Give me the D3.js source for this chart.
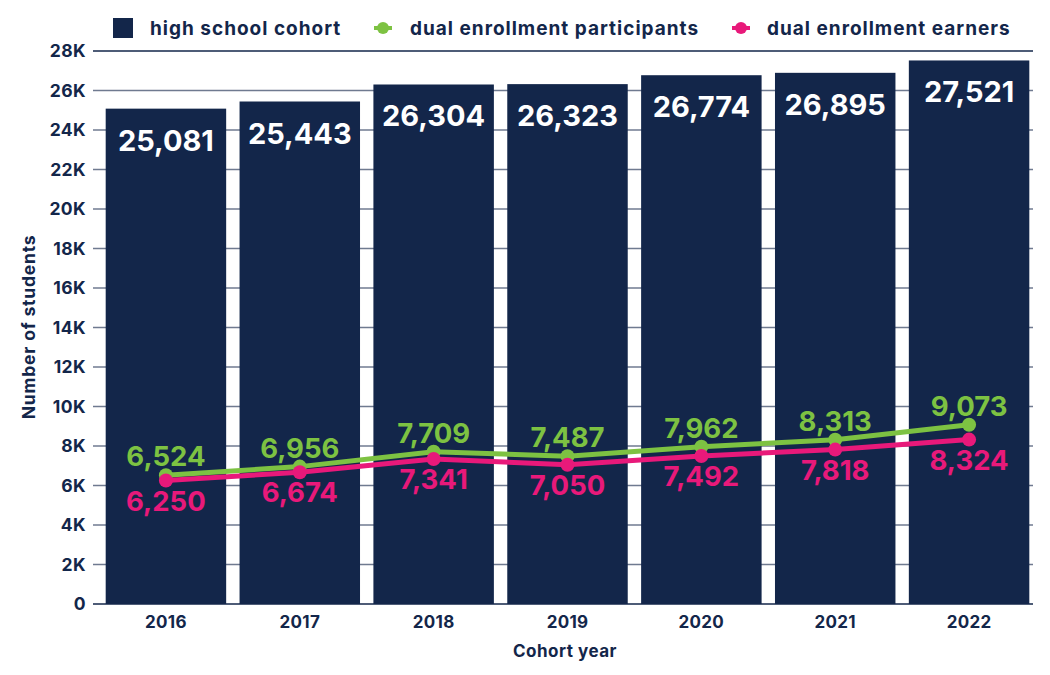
<!DOCTYPE html>
<html><head><meta charset="utf-8">
<script src="https://cdn.jsdelivr.net/npm/d3@7"></script>
<style>
html,body{margin:0;padding:0;background:#fff;}
text{font-family:Inter, "Noto Sans", sans-serif;font-weight:700;}
</style></head>
<body><svg id="c" width="1050" height="675"></svg>
<script>
const years = ["2016","2017","2018","2019","2020","2021","2022"];
const cohort = [25081,25443,26304,26323,26774,26895,27521];
const participants = [6524,6956,7709,7487,7962,8313,9073];
const earners = [6250,6674,7341,7050,7492,7818,8324];
const yTicks = [0,2000,4000,6000,8000,10000,12000,14000,16000,18000,20000,22000,24000,26000,28000];
const legendLabels = ["high school cohort","dual enrollment participants","dual enrollment earners"];

const navy = "#13264a", green = "#7dc242", pink = "#e8197a";
const svg = d3.select("#c");
const x = d3.scaleBand().domain(years).range([99,1036]).paddingInner(0.1).paddingOuter(0.05);
const y = d3.scaleLinear().domain([0,28000]).range([604,51]);
const fmt = d3.format(",");

// gridlines
svg.append("g").selectAll("line").data(yTicks).join("line")
  .attr("x1",93).attr("x2",1033).attr("y1",d=>y(d)).attr("y2",d=>y(d))
  .attr("stroke",d=>d===0||d===28000?navy:"#6f7a90").attr("stroke-width",1.5);

// y axis labels
const ya = svg.append("g").attr("transform","translate(93,0)")
  .call(d3.axisLeft(y).tickValues(yTicks).tickSize(0).tickPadding(7).tickFormat(d=>d===0?"0":(d/1000)+"K"));
ya.select(".domain").remove();
ya.selectAll("text").attr("fill",navy).attr("font-size",17.5).attr("letter-spacing",0.4).attr("font-family","Inter").attr("font-weight",700);

// x axis labels
const xa = svg.append("g").attr("transform","translate(0,604)")
  .call(d3.axisBottom(x).tickSize(0).tickPadding(12));
xa.select(".domain").remove();
xa.selectAll("text").attr("fill",navy).attr("font-size",17).attr("letter-spacing",0.3).attr("font-family","Inter").attr("font-weight",700);

// bars
svg.append("g").selectAll("rect").data(years).join("rect")
  .attr("x",d=>x(d)).attr("width",x.bandwidth())
  .attr("y",(d,i)=>y(cohort[i])).attr("height",(d,i)=>y(0)-y(cohort[i]))
  .attr("fill",navy);
svg.append("g").selectAll("text").data(years).join("text")
  .attr("x",d=>x(d)+x.bandwidth()/2).attr("y",(d,i)=>y(cohort[i])+42)
  .attr("text-anchor","middle").attr("fill","#fff").attr("font-size",29)
  .text((d,i)=>fmt(cohort[i]));

// lines
const cx = d=>x(d)+x.bandwidth()/2;
function drawSeries(vals,color,dy){
  const line = d3.line().x((d,i)=>cx(years[i])).y(d=>y(d));
  svg.append("path").datum(vals).attr("d",line).attr("fill","none").attr("stroke",color).attr("stroke-width",5);
  svg.append("g").selectAll("circle").data(vals).join("circle")
    .attr("cx",(d,i)=>cx(years[i])).attr("cy",d=>y(d)).attr("r",7).attr("fill",color);
  svg.append("g").selectAll("text").data(vals).join("text")
    .attr("x",(d,i)=>cx(years[i])).attr("y",d=>y(d)+dy)
    .attr("text-anchor","middle").attr("fill",color).attr("font-size",27.5)
    .text(d=>fmt(d));
}
drawSeries(participants,green,-9);
drawSeries(earners,pink,30);

// axis titles
svg.append("text").attr("transform","translate(35,327) rotate(-90)").attr("text-anchor","middle")
  .attr("fill",navy).attr("font-size",17.5).attr("letter-spacing",0.8).text("Number of students");
svg.append("text").attr("x",565).attr("y",657).attr("text-anchor","middle")
  .attr("fill",navy).attr("font-size",17).attr("letter-spacing",0.5).text("Cohort year");

// legend
const lg = svg.append("g");
lg.append("rect").attr("x",113).attr("y",18).attr("width",20).attr("height",20).attr("fill",navy);
lg.append("text").attr("x",150).attr("y",35).attr("fill",navy).attr("font-size",19).attr("letter-spacing",1).text(legendLabels[0]);
[[383,green,legendLabels[1],410],[741,pink,legendLabels[2],767]].forEach(([mx,c,t,tx])=>{
  lg.append("line").attr("x1",mx-9).attr("x2",mx+9).attr("y1",28).attr("y2",28).attr("stroke",c).attr("stroke-width",4);
  lg.append("circle").attr("cx",mx).attr("cy",28).attr("r",6).attr("fill",c);
  lg.append("text").attr("x",tx).attr("y",35).attr("fill",navy).attr("font-size",19).attr("letter-spacing",1).text(t);
});
</script></body></html>
